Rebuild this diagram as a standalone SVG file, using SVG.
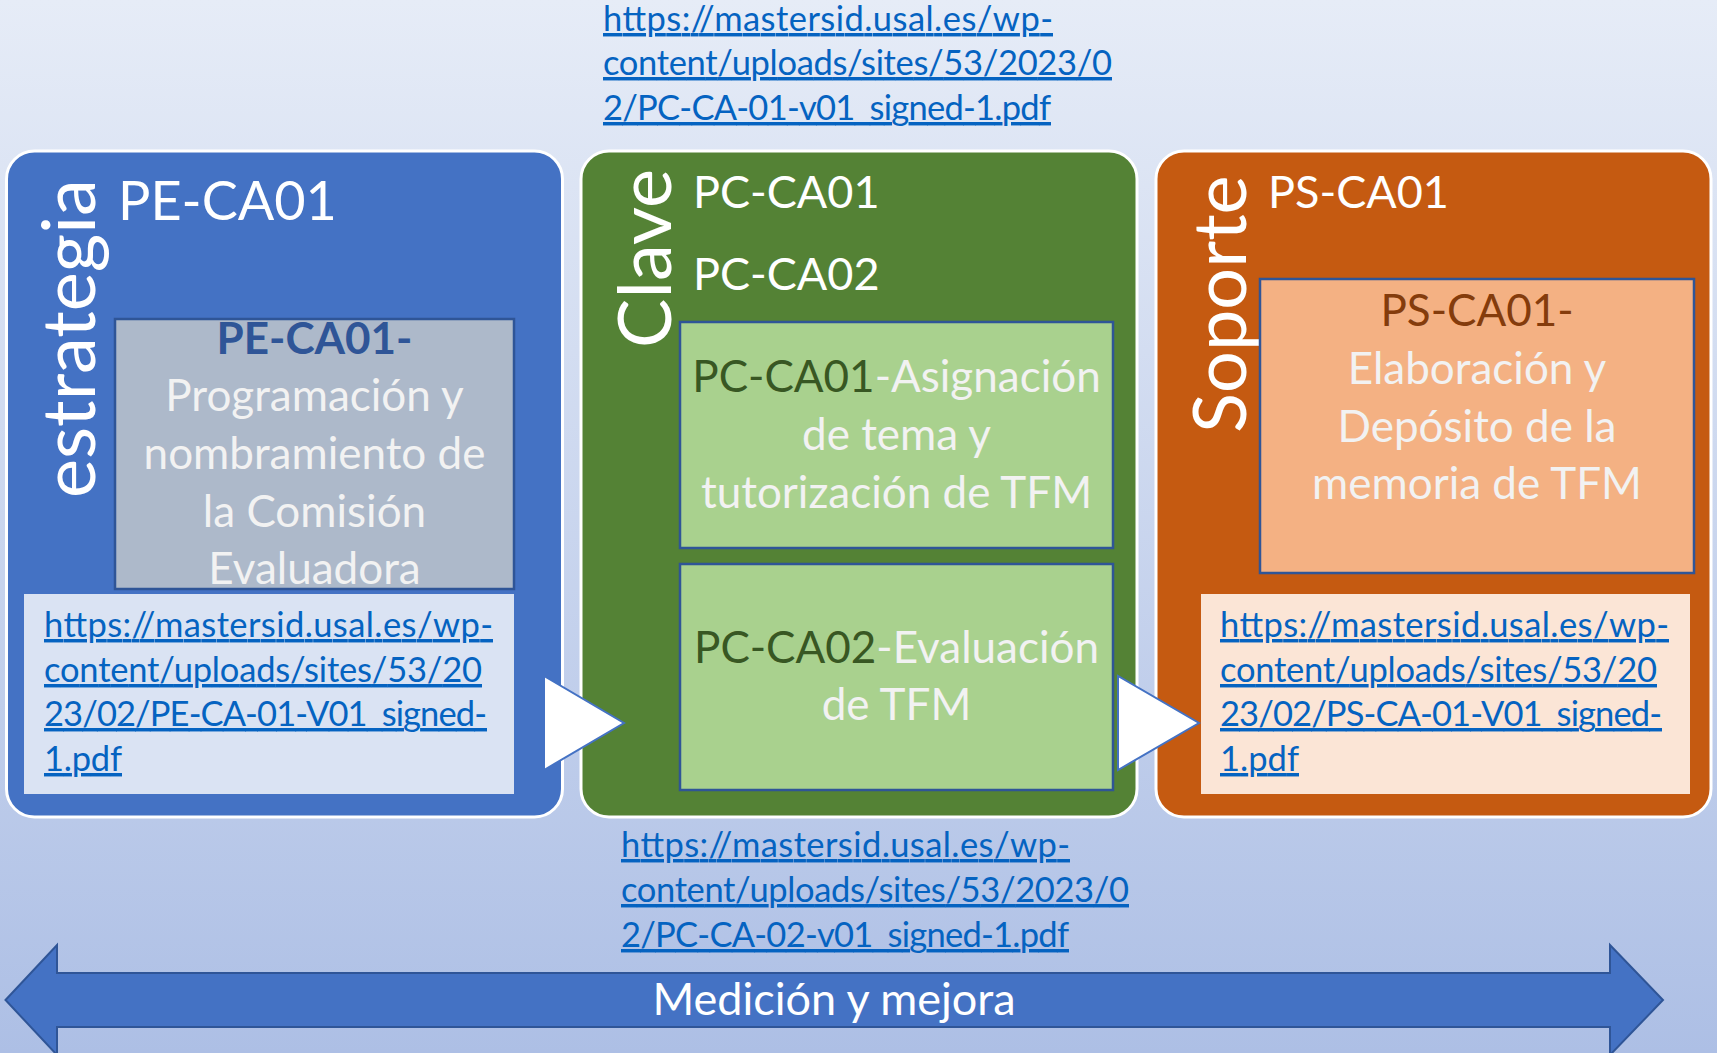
<svg xmlns="http://www.w3.org/2000/svg" width="1717" height="1053" viewBox="0 0 1717 1053">
<defs>
<linearGradient id="bg" x1="0" y1="0" x2="0" y2="1">
<stop offset="0" stop-color="#e6ecf7"/>
<stop offset="1" stop-color="#adbfe5"/>
</linearGradient>
<style>
text{font-family:Lato,"Liberation Sans",sans-serif}
.w{fill:#ffffff}
.box{fill:#f2f2f2;font-size:44px;text-anchor:middle}
.lbl{fill:#ffffff;font-size:45px}
.rot{fill:#ffffff;font-size:74px}
.lnk{fill:#0563c1;font-size:34.5px;text-decoration:underline}
.panel{stroke:#ffffff;stroke-width:3}
.inner{stroke:#2f5597;stroke-width:2.5}
.tri{fill:#ffffff;stroke:#4472c4;stroke-width:2}
</style>
</defs>
<rect width="1717" height="1053" fill="url(#bg)"/>

<g id="estrategia">
<rect class="panel" x="6.5" y="151" width="556" height="666" rx="28" fill="#4472c4"/>
<text class="rot" transform="translate(95,498) rotate(-90)">estrategia</text>
<text class="w" x="118" y="220" font-size="54">PE-CA01</text>
<rect class="inner" x="115" y="319" width="399" height="270" fill="#adb9ca"/>
<text class="box" x="314.5" y="354"><tspan font-weight="bold" fill="#2f5597">PE-CA01-</tspan><tspan x="314.5" y="411">Programación y</tspan><tspan x="314.5" y="469">nombramiento de</tspan><tspan x="314.5" y="527">la Comisión</tspan><tspan x="314.5" y="584">Evaluadora</tspan></text>
<rect x="24" y="594" width="490" height="200" fill="#dae3f3"/>
<text class="lnk" x="44" y="637" textLength="449">https://mastersid.usal.es/wp-</text>
<text class="lnk" x="44" y="682" textLength="438">content/uploads/sites/53/20</text>
<text class="lnk" x="44" y="726" textLength="443">23/02/PE-CA-01-V01_signed-</text>
<text class="lnk" x="44" y="771" textLength="78">1.pdf</text>
</g>

<g id="clave">
<rect class="panel" x="581" y="151" width="556" height="666" rx="28" fill="#548235"/>
<text class="rot" transform="translate(671,348) rotate(-90)">Clave</text>
<text class="lbl" x="693" y="208">PC-CA01</text>
<text class="lbl" x="693" y="290">PC-CA02</text>
<rect class="inner" x="680" y="322" width="433" height="226" fill="#a9d18e"/>
<text class="box" x="896.5" y="392"><tspan fill="#385723">PC-CA01</tspan>-Asignación<tspan x="896.5" y="450">de tema y</tspan><tspan x="896.5" y="508">tutorización de TFM</tspan></text>
<rect class="inner" x="680" y="564" width="433" height="226" fill="#a9d18e"/>
<text class="box" x="896.5" y="663"><tspan fill="#385723">PC-CA02</tspan>-Evaluación<tspan x="896.5" y="720">de TFM</tspan></text>
</g>

<g id="soporte">
<rect class="panel" x="1156" y="151" width="555" height="666" rx="28" fill="#c55a11"/>
<text class="rot" transform="translate(1246,433) rotate(-90)">Soporte</text>
<text class="lbl" x="1268" y="208">PS-CA01</text>
<rect class="inner" x="1260" y="279" width="434" height="294" fill="#f4b183"/>
<text class="box" x="1477" y="326"><tspan fill="#843c0c">PS-CA01-</tspan><tspan x="1477" y="384">Elaboración y</tspan><tspan x="1477" y="442">Depósito de la</tspan><tspan x="1477" y="499">memoria de TFM</tspan></text>
<rect x="1201" y="594" width="489" height="200" fill="#fbe5d6"/>
<text class="lnk" x="1220" y="637" textLength="449">https://mastersid.usal.es/wp-</text>
<text class="lnk" x="1220" y="682" textLength="437">content/uploads/sites/53/20</text>
<text class="lnk" x="1220" y="726" textLength="442">23/02/PS-CA-01-V01_signed-</text>
<text class="lnk" x="1220" y="771" textLength="79">1.pdf</text>
</g>

<g id="link-top">
<text class="lnk" x="603" y="31" textLength="450">https://mastersid.usal.es/wp-</text>
<text class="lnk" x="603" y="75" textLength="509">content/uploads/sites/53/2023/0</text>
<text class="lnk" x="603" y="120" textLength="448">2/PC-CA-01-v01_signed-1.pdf</text>
</g>
<g id="link-bottom">
<text class="lnk" x="621" y="857" textLength="449">https://mastersid.usal.es/wp-</text>
<text class="lnk" x="621" y="902" textLength="508">content/uploads/sites/53/2023/0</text>
<text class="lnk" x="621" y="947" textLength="448">2/PC-CA-02-v01_signed-1.pdf</text>
</g>

<g id="connectors">
<polygon class="tri" points="544,676 544,770 624,723"/>
<polygon class="tri" points="1118,676 1118,770 1199,723"/>
</g>

<g id="medicion">
<polygon points="5.5,1000 57,945 57,973 1610,973 1610,945 1663,1000 1610,1055 1610,1027 57,1027 57,1055" fill="#4472c4" stroke="#2f5597" stroke-width="2"/>
<text class="w" x="834" y="1015" font-size="45" text-anchor="middle">Medición y mejora</text>
</g>
</svg>
